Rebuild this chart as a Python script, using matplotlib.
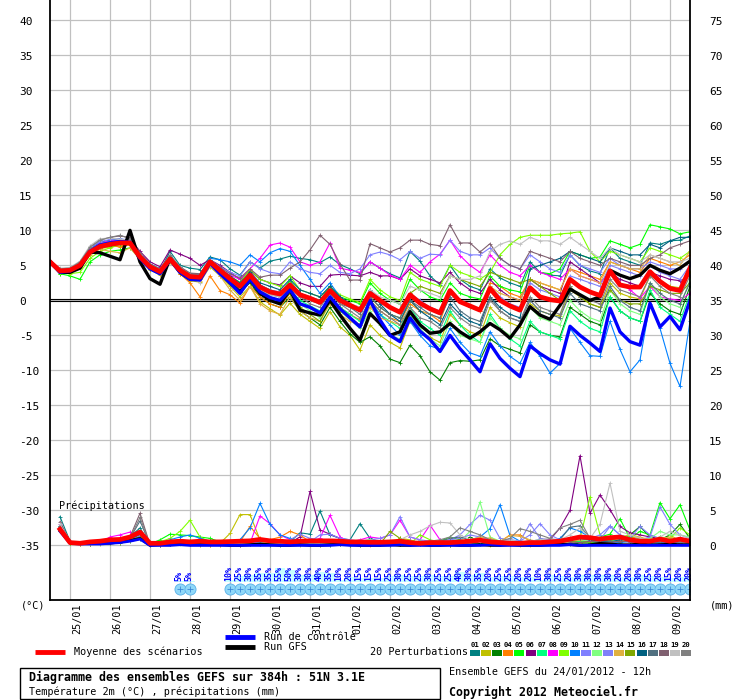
import matplotlib
matplotlib.use('Agg')
import matplotlib.pyplot as plt
from matplotlib.patches import Rectangle
from matplotlib.lines import Line2D
import matplotlib.transforms as mtrans

plt.rcParams['font.family'] = ['DejaVu Sans Mono', 'DejaVu Sans']

# ---------------- data ----------------
HOURS = [6 * k for k in range(65)]          # 24/01 12h -> +384h, every 6h
DATES = ['25/01', '26/01', '27/01', '28/01', '29/01', '30/01', '31/01', '01/02',
         '02/02', '03/02', '04/02', '05/02', '06/02', '07/02', '08/02', '09/02']
DATE_HOURS = [12 + 24 * n for n in range(16)]

MEAN_T = [5.5, 4.2, 4.3, 5.0, 6.9, 7.7, 8.0, 8.2, 8.2, 6.2, 4.8, 4.1, 5.9, 4.3, 3.4, 3.3,
          5.5, 4.3, 3.1, 2.0, 3.6, 1.9, 1.2, 0.9, 2.2, 0.8, 0.3, -0.3, 1.4, 0.0, -0.7, -1.4,
          1.0, 0.0, -1.0, -1.7, 0.8, -0.4, -1.2, -1.8, 1.4, -0.2, -0.8, -1.4, 1.7, 0.0, -0.8, -1.4,
          1.8, 0.5, 0.1, -0.1, 3.0, 1.9, 1.2, 0.7, 4.2, 2.2, 1.9, 1.9, 4.1, 2.7, 1.7, 1.4,
          4.6]
CTRL_T = [5.5, 4.0, 4.2, 5.0, 7.0, 7.9, 8.2, 8.4, 8.3, 6.0, 4.5, 3.8, 5.8, 4.0, 3.0, 2.9,
          5.3, 3.8, 2.5, 1.0, 3.0, 1.2, 0.4, 0.0, 1.5, -0.5, -1.0, -1.8, 0.5, -1.2, -2.5, -3.8,
          0.0, -2.8, -5.0, -5.9, -2.5, -4.4, -5.6, -7.3, -5.0, -6.9, -8.5, -10.2, -6.2, -8.3, -9.7, -10.9,
          -6.5, -7.6, -8.5, -9.1, -3.7, -5.0, -6.1, -7.3, -1.1, -4.5, -5.9, -6.4, -0.4, -3.8, -2.3, -4.2,
          0.0]
GFS_T = [5.6, 4.0, 4.0, 4.6, 6.9, 6.8, 6.3, 5.8, 10.0, 5.5, 3.1, 2.3, 6.0, 4.0, 3.0, 3.0,
         5.5, 4.0, 2.5, 1.2, 3.0, 1.0, 0.0, -0.5, 1.5, -1.4, -1.8, -2.1, 0.0, -2.1, -4.0, -5.7,
         -1.9, -3.3, -5.0, -4.5, -1.6, -3.5, -4.7, -4.5, -3.3, -4.5, -5.4, -4.5, -3.3, -4.2, -5.4, -3.5,
         -0.9, -2.1, -2.7, -0.7, 1.6, 0.8, 0.0, 0.5, 4.3, 3.6, 3.1, 3.6, 5.0, 4.3, 3.8, 4.6,
         5.6]

T01 = [5.6, 4.5, 4.6, 5.4, 7.4, 8.3, 8.6, 8.8, 8.4, 6.5, 5.0, 4.2, 7.0, 5.0, 4.6, 4.4,
       6.2, 5.8, 4.5, 3.6, 5.5, 4.6, 5.6, 5.9, 6.3, 6.0, 5.8, 5.4, 6.2, 5.1, 4.5, 3.8,
       5.5, 4.6, 3.8, 3.2, 7.0, 5.6, 3.5, 2.2, 5.0, 3.0, 2.0, 1.5, 4.5, 3.2, 2.5, 2.0,
       5.5, 4.0, 3.6, 3.5, 6.5, 5.0, 4.2, 3.8, 7.5, 6.0, 5.5, 5.0, 8.2, 8.0, 8.5, 8.6,
       9.2]
T02 = [5.3, 3.8, 3.9, 4.6, 6.5, 7.4, 7.6, 7.8, 7.9, 5.8, 4.4, 3.6, 5.5, 3.8, 2.8, 2.6,
       4.8, 3.5, 2.0, 0.5, 2.0, -0.2, -1.2, -2.1, -0.4, -2.0, -3.0, -4.0, -1.6, -3.8, -5.0, -7.1,
       -3.5, -5.0, -6.0, -6.8, -3.0, -4.5, -5.3, -6.0, -2.0, -3.5, -4.5, -5.0, -1.0, -2.5, -3.2, -3.8,
       -0.5, -1.5, -2.0, -2.2, 1.5, 0.5, -0.5, -1.0, 2.5, 1.0, 0.5, 0.2, 3.5, 2.8, 2.0, 1.8,
       4.0]
T03 = [5.4, 4.0, 4.1, 4.8, 6.7, 7.5, 7.8, 8.0, 8.0, 6.0, 4.5, 3.9, 5.7, 4.0, 3.1, 3.0,
       5.0, 3.8, 2.5, 1.2, 2.5, 0.5, -0.5, -1.0, 0.5, -1.5, -2.5, -3.5, -1.0, -3.0, -4.8, -6.0,
       -5.2, -6.5, -8.4, -8.9, -6.4, -7.9, -10.2, -11.4, -8.9, -8.6, -8.7, -8.5, -5.5, -6.5, -7.0, -7.5,
       -3.5, -4.5, -5.0, -5.2, -1.0, -2.0, -3.0, -3.5, 0.5, -1.5, -2.5, -3.0, 1.0, -0.5, -1.5, -2.0,
       2.0]
T04 = [5.5, 4.3, 4.4, 5.1, 6.8, 7.5, 7.9, 7.6, 8.0, 6.0, 4.6, 4.0, 5.8, 3.8, 2.5, 0.5,
       3.5, 1.4, 0.8, -0.4, 2.0, 0.5, -0.5, -1.0, 1.0, -0.5, -1.0, -1.8, 0.5, -1.0, -2.0, -2.8,
       0.0, -1.5, -2.5, -3.0, -0.5, -1.5, -2.0, -3.0, 1.0, 0.0, -1.0, -1.5, 2.5, 2.0, 1.0, 0.5,
       3.0, 2.5, 2.0, 1.5, 4.5, 4.0, 3.5, 3.0, 5.5, 5.0, 4.5, 4.0, 6.0, 5.5, 5.0, 5.5,
       6.5]
T05 = [5.5, 3.8, 3.5, 3.0, 5.5, 6.5, 7.0, 7.2, 7.5, 6.0, 4.8, 4.3, 6.2, 4.6, 3.8, 3.6,
       5.8, 4.6, 3.4, 2.4, 4.0, 2.2, 1.5, 1.0, 2.8, 1.0, 0.4, 0.0, 2.0, 0.5, 0.0, -0.5,
       2.5, 1.0, 0.0, -0.5, 3.0, 1.5, 0.5, 0.0, 2.5, 1.0, 0.5, 0.2, 3.5, 2.0, 1.5, 1.2,
       5.0, 4.0, 3.8, 4.5, 7.0, 6.5, 6.0, 6.2, 8.5, 8.0, 7.5, 8.0, 10.8, 10.5, 10.2, 9.5,
       9.8]
T06 = [5.5, 4.2, 4.4, 5.2, 7.2, 8.0, 8.3, 8.5, 8.8, 7.0, 5.5, 4.8, 7.2, 6.6, 6.0, 5.0,
       5.8, 5.0, 4.0, 3.0, 4.2, 3.0, 2.5, 2.2, 3.5, 2.5, 2.0, 2.0, 3.6, 3.7, 3.6, 3.5,
       4.0, 3.5, 3.5, 3.0, 4.5, 3.5, 3.0, 2.5, 4.0, 2.5, 1.5, 1.0, 3.0, 1.5, 0.5, 0.0,
       3.0, 2.0, 1.5, 1.0, 5.5, 4.5, 3.5, 2.5, 4.0, 3.0, 2.5, 2.0, 4.0, 3.5, 3.0, 2.8,
       3.5]
T07 = [5.4, 4.1, 4.2, 4.9, 6.8, 7.6, 7.9, 8.1, 8.1, 6.1, 4.7, 4.0, 5.8, 4.2, 3.3, 3.2,
       5.4, 4.0, 2.8, 1.5, 3.2, 1.5, 0.5, 0.0, 1.5, 0.0, -0.8, -1.5, 0.5, -1.0, -2.0, -3.0,
       0.0, -2.0, -3.0, -4.0, -1.0, -3.0, -4.0, -5.0, -1.5, -3.5, -5.0, -6.0, -2.0, -4.0, -5.5, -6.5,
       -3.0, -4.5, -5.0, -5.5, -1.5, -3.0, -4.0, -4.5, 0.5, -1.5, -2.5, -3.0, 1.5, -1.0, -2.0, -3.0,
       1.0]
T08 = [5.6, 4.3, 4.4, 5.2, 7.2, 8.2, 8.5, 8.6, 8.4, 6.4, 5.0, 4.2, 6.0, 4.4, 3.6, 3.5,
       5.6, 4.5, 3.6, 3.0, 4.5, 6.0, 7.9, 8.2, 7.6, 5.5, 5.0, 5.5, 8.2, 4.6, 4.3, 4.0,
       5.5, 4.6, 3.6, 3.0, 5.0, 4.0, 5.5, 6.6, 8.6, 6.4, 5.0, 4.0, 6.5, 5.0, 4.0, 3.5,
       5.0, 4.0, 3.5, 3.0, 4.5, 3.5, 3.0, 2.5, 4.0, 2.5, 1.5, 0.3, 2.0, 0.5, 0.2, 0.0,
       1.0]
T09 = [5.5, 4.0, 3.8, 4.0, 6.0, 7.0, 7.5, 8.0, 8.0, 6.4, 5.0, 4.5, 6.0, 4.6, 3.8, 3.6,
       5.6, 4.4, 3.4, 2.6, 4.4, 3.0, 2.5, 2.0, 3.5, 1.5, 1.0, 0.5, 2.0, 0.8, 0.2, -0.3,
       3.0, 1.5, 0.5, 0.0, 4.0, 3.0, 2.5, 2.0, 5.0, 4.0, 3.5, 3.0, 4.0, 6.5, 8.0, 9.0,
       9.3, 9.3, 9.3, 9.5, 9.6, 9.8, 7.0, 5.5, 7.0, 6.5, 6.0, 5.5, 7.5, 7.0, 6.5, 6.0,
       7.0]
T10 = [5.6, 4.4, 4.5, 5.3, 7.3, 8.1, 8.4, 8.5, 8.5, 6.6, 5.2, 4.5, 6.3, 4.7, 3.8, 3.7,
       6.0, 5.8, 5.5, 5.0, 6.5, 5.5, 6.8, 7.4, 7.0, 5.0, 3.0, 1.0, 2.5, 0.5, -0.5, -1.5,
       0.0, -2.0, -3.5, -5.0, -3.0, -5.0, -6.5, -7.0, -4.0, -6.0, -7.5, -8.0, -4.5, -6.5, -8.0, -9.0,
       -6.0, -8.0, -10.4, -9.0, -4.0, -6.0, -7.9, -8.0, -3.0, -7.0, -10.2, -8.5, -0.5, -4.0, -9.0, -12.3,
       -3.0]
T11 = [5.6, 4.4, 4.5, 5.2, 7.5, 8.4, 8.7, 8.8, 8.6, 6.5, 5.0, 4.3, 6.1, 4.5, 3.6, 3.5,
       5.8, 4.8, 4.0, 3.5, 5.5, 4.5, 4.0, 3.8, 5.5, 4.5, 4.0, 3.8, 5.0, 4.0, 3.8, 4.5,
       6.5, 6.9, 6.5, 5.8, 7.0, 6.0, 6.6, 6.5, 8.6, 7.0, 6.5, 6.5, 7.5, 6.0, 5.0, 4.5,
       6.5, 5.5, 4.5, 4.0, 6.5, 5.0, 4.5, 4.0, 6.0, 5.0, 4.5, 4.5, 5.5, 5.0, 4.5, 4.5,
       5.5]
T12 = [5.5, 4.3, 4.4, 5.1, 7.0, 7.8, 8.1, 8.3, 8.3, 6.3, 4.9, 4.2, 6.0, 4.4, 3.5, 3.4,
       5.6, 4.2, 3.0, 1.8, 3.5, 1.5, 0.5, 0.0, 1.5, -0.5, -1.5, -2.5, 0.0, -1.5, -2.8, -4.0,
       -1.5, -3.5, -5.0, -5.5, -2.0, -4.0, -5.5, -6.5, -3.0, -5.0, -5.5, -6.0, -2.5, -4.0, -5.0, -5.5,
       -1.0, -2.5, -3.0, -3.5, 0.0, -1.5, -2.5, -3.0, 1.5, -0.5, -1.5, -2.0, 2.5, 0.5, -0.5, -1.0,
       3.0]
T13 = [5.5, 4.2, 4.3, 5.0, 6.9, 7.7, 8.0, 8.2, 8.2, 6.2, 4.8, 4.1, 5.9, 4.3, 3.4, 3.3,
       5.5, 4.3, 3.2, 2.2, 3.8, 2.2, 1.5, 1.2, 2.5, 1.0, 0.5, 0.0, 1.5, 0.2, -0.5, -1.0,
       1.5, 0.0, -1.0, -1.5, 1.0, 0.0, -1.0, -1.5, 1.5, 0.0, -1.0, -1.5, 2.0, 0.5, -0.5, -1.0,
       2.5, 1.5, 1.0, 0.5, 3.5, 3.0, 2.5, 2.0, 5.0, 4.5, 4.0, 3.5, 5.0, 4.0, 3.5, 3.0,
       5.0]
T14 = [5.4, 4.0, 4.1, 4.8, 6.6, 7.3, 7.0, 6.8, 7.5, 5.8, 4.5, 3.8, 5.6, 4.0, 3.0, 2.8,
       5.0, 3.5, 1.5, 0.0, 2.0, -0.5, -1.5, -2.0, 0.5, -1.5, -2.5, -3.0, -0.5, -2.0, -3.0, -3.5,
       -1.0, -2.5, -3.0, -3.5, 0.0, -1.5, -2.0, -2.5, 1.0, 0.0, -1.0, -1.5, 2.0, 1.0, 0.5, 0.0,
       3.0, 2.5, 2.0, 1.5, 4.5, 3.5, 3.0, 2.5, 5.5, 5.0, 4.5, 4.5, 6.5, 6.0, 5.5, 5.0,
       7.0]
T15 = [5.5, 4.2, 4.3, 5.0, 6.9, 7.6, 7.9, 8.0, 8.0, 6.1, 4.7, 4.0, 5.8, 4.2, 3.2, 3.1,
       5.2, 4.0, 2.6, 1.2, 3.0, 1.0, 0.0, -0.5, 1.0, -1.0, -2.0, -3.0, 0.0, -1.5, -2.5, -3.5,
       0.5, -1.0, -2.0, -2.5, 1.0, 2.0, 1.5, 1.0, 3.5, 3.0, 2.5, 2.0, 4.0, 3.5, 3.0, 2.5,
       3.0, 2.0, 1.0, 0.0, 2.0, 0.5, -0.5, -1.0, 1.5, 0.0, -0.5, -0.5, 2.0, 1.5, 1.0, 1.0,
       2.5]
T16 = [5.6, 4.4, 4.4, 5.1, 7.1, 7.9, 8.2, 8.3, 8.3, 6.4, 5.0, 4.3, 6.2, 4.6, 3.6, 3.5,
       5.8, 4.5, 3.5, 2.5, 4.0, 2.5, 2.0, 1.5, 3.0, 1.5, 1.0, 0.5, 2.0, 0.5, -0.5, -1.5,
       1.5, -0.5, -2.0, -3.0, 0.0, -1.5, -2.5, -3.5, -0.5, -2.0, -3.0, -3.5, 0.5, -1.0, -2.0, -2.5,
       4.5, 5.0, 5.5, 6.0, 7.0, 6.5, 6.0, 5.5, 7.5, 7.0, 6.5, 6.5, 8.0, 7.5, 8.5, 9.0,
       9.0]
T17 = [5.5, 4.2, 4.3, 5.0, 6.9, 7.7, 8.0, 8.2, 8.2, 6.2, 4.8, 4.1, 5.9, 4.3, 3.4, 3.3,
       5.5, 4.3, 3.1, 2.0, 3.6, 1.5, 0.8, 0.5, 1.8, 0.5, 0.0, -0.5, 1.0, -0.5, -1.0, -2.0,
       0.5, -1.0, -2.0, -2.5, 0.0, -1.0, -2.0, -2.5, 0.5, -1.5, -2.5, -3.0, 0.5, -1.5, -2.5, -3.0,
       0.0, -1.5, -2.0, -2.5, 1.0, -0.5, -1.0, -1.5, 2.0, 0.0, -1.0, -1.5, 2.5, 1.0, 0.0, -0.5,
       2.5]
T18 = [5.6, 4.5, 4.6, 5.4, 7.6, 8.6, 9.0, 9.2, 9.0, 6.8, 5.2, 4.5, 6.5, 4.8, 3.9, 3.8,
       5.8, 4.7, 3.8, 3.2, 4.5, 3.3, 3.6, 3.6, 4.6, 5.5, 7.2, 9.3, 8.0, 5.2, 2.9, 2.9,
       8.1, 7.5, 6.9, 7.5, 8.6, 8.6, 8.0, 7.8, 10.8, 8.2, 8.2, 6.9, 8.1, 6.0, 5.0, 4.5,
       7.0, 6.5, 6.0, 5.5, 7.0, 6.0, 5.5, 5.0, 6.0, 5.5, 5.0, 5.0, 6.0, 6.5, 7.5, 8.0,
       8.5]
T19 = [5.6, 4.6, 4.7, 5.6, 7.8, 8.8, 8.9, 8.7, 8.6, 6.5, 5.0, 4.4, 6.3, 4.6, 3.7, 2.5,
       5.0, 3.8, 2.8, 1.8, 3.4, 1.5, 0.8, 0.5, 2.0, 0.5, 0.0, -0.5, 1.5, 0.0, -0.5, -1.0,
       1.5, 0.5, 0.0, -0.5, 2.0, 1.5, 1.0, 0.5, 3.5, 3.0, 3.0, 3.5, 7.0, 8.0, 8.5, 8.0,
       9.0, 8.5, 8.5, 8.0, 9.0, 8.0, 7.0, 6.0, 7.5, 6.5, 6.0, 5.5, 6.5, 6.0, 5.5, 5.5,
       6.0]
T20 = [5.6, 4.5, 4.6, 5.5, 7.6, 8.6, 9.0, 9.3, 8.8, 6.6, 5.1, 4.4, 6.4, 4.7, 3.7, 3.6,
       5.8, 4.5, 3.3, 2.3, 3.8, 2.0, 1.5, 1.0, 2.5, 0.5, -0.5, -1.0, 1.0, -0.5, -1.5, -2.5,
       0.0, -1.5, -2.5, -3.5, -1.0, -2.5, -3.0, -4.0, -1.0, -2.5, -3.5, -4.0, 0.0, -1.5, -2.5, -3.0,
       0.5, -1.0, -1.5, -2.0, 2.0, 0.5, 0.0, -0.5, 3.0, 1.5, 1.0, 0.5, 3.5, 2.0, 1.0, 0.5,
       3.5]

# precipitation (mm per 6h), steps k = 1..64
MEAN_P = [2.3, 0.4, 0.3, 0.5, 0.6, 0.8, 0.85, 1.2, 1.9, 0.3, 0.3, 0.5, 0.6, 0.5, 0.6, 0.5,
          0.5, 0.55, 0.6, 0.65, 0.85, 0.65, 0.6, 0.5, 0.6, 0.65, 0.65, 0.65, 0.6, 0.5, 0.5, 0.45,
          0.45, 0.5, 0.6, 0.4, 0.3, 0.4, 0.4, 0.4, 0.5, 0.6, 0.75, 0.5, 0.4, 0.3, 0.3, 0.4,
          0.4, 0.5, 0.6, 0.9, 1.2, 1.1, 0.9, 1.1, 1.2, 0.8, 0.6, 0.6, 0.9, 0.6, 0.9, 0.6]
CTRL_P = [2.0, 0.3, 0.2, 0.2, 0.2, 0.3, 0.4, 0.6, 0.9, 0.0, 0.0, 0.0, 0.1, 0.0, 0.0, 0.0,
          0.0, 0.0, 0.0, 0.0, 0.0, 0.0, 0.0, 0.0, 0.0, 0.0, 0.0, 0.0, 0.1, 0.0, 0.0, 0.0,
          0.0, 0.0, 0.1, 0.0, 0.0, 0.0, 0.0, 0.0, 0.0, 0.0, 0.0, 0.1, 0.0, 0.0, 0.0, 0.0,
          0.0, 0.0, 0.0, 0.1, 0.0, 0.0, 0.0, 0.0, 0.0, 0.0, 0.0, 0.0, 0.0, 0.0, 0.0, 0.0]
GFS_P = [2.2, 0.4, 0.3, 0.3, 0.3, 0.3, 0.5, 0.7, 1.0, 0.0, 0.1, 0.1, 0.2, 0.1, 0.1, 0.1,
         0.1, 0.0, 0.0, 0.1, 0.2, 0.1, 0.0, 0.0, 0.1, 0.0, 0.0, 0.1, 0.2, 0.1, 0.0, 0.0,
         0.0, 0.1, 0.0, 0.0, 0.1, 0.0, 0.0, 0.1, 0.0, 0.0, 0.1, 0.0, 0.0, 0.1, 0.0, 0.0,
         0.0, 0.1, 0.2, 0.1, 0.0, 0.1, 0.3, 0.2, 0.1, 0.1, 0.2, 0.1, 0.1, 0.2, 0.1, 0.1]

P01 = [4.1, 0.6, 0.3, 0.2, 0.3, 0.5, 0.8, 1.2, 2.5, 0.1, 0.1, 0.2, 0.3, 0.5, 0.4, 0.3,
       0.3, 0.2, 0.1, 0.3, 0.5, 0.3, 0.4, 0.5, 1.8, 1.6, 4.9, 1.5, 1.0, 0.8, 3.1, 1.0,
       0.5, 0.4, 0.3, 0.6, 0.4, 0.3, 0.5, 0.7, 0.6, 0.4, 0.3, 0.3, 0.4, 0.5, 0.3, 0.2,
       0.3, 0.4, 0.5, 0.6, 0.8, 0.6, 0.5, 0.7, 0.5, 0.6, 0.8, 0.5, 0.6, 0.5, 0.7, 0.5]
P02 = [2.8, 0.5, 0.3, 0.3, 0.2, 0.3, 0.5, 0.7, 1.0, 0.0, 0.1, 0.2, 0.4, 0.2, 0.1, 0.1,
       0.3, 1.7, 4.4, 4.4, 0.8, 0.4, 0.3, 0.2, 0.1, 0.1, 0.2, 0.3, 0.2, 0.1, 0.1, 0.2,
       0.3, 0.2, 1.0, 0.8, 0.3, 0.2, 0.2, 0.1, 0.2, 0.3, 0.2, 0.1, 0.2, 0.2, 0.1, 0.1,
       0.2, 0.3, 0.5, 0.4, 0.6, 0.5, 0.4, 0.5, 0.6, 0.7, 0.8, 0.5, 0.4, 1.5, 0.6, 0.4]
P03 = [2.6, 0.4, 0.2, 0.2, 0.3, 0.3, 0.4, 0.6, 0.9, 0.0, 0.1, 0.3, 0.8, 0.6, 0.5, 0.4,
       0.3, 0.2, 0.2, 0.3, 0.2, 0.1, 0.1, 0.2, 0.3, 0.2, 0.1, 0.1, 0.2, 0.1, 0.1, 0.2,
       0.2, 0.1, 0.2, 0.4, 0.6, 0.3, 0.2, 0.1, 0.2, 1.2, 0.5, 0.3, 0.2, 0.2, 0.3, 0.2,
       0.3, 0.4, 0.3, 0.2, 0.3, 0.4, 0.3, 0.5, 0.8, 1.5, 2.7, 1.2, 0.8, 1.5, 3.0, 1.0]
P04 = [2.2, 0.5, 0.2, 0.2, 0.3, 0.4, 0.5, 0.8, 1.3, 0.0, 0.1, 0.2, 0.3, 0.2, 0.2, 0.1,
       0.1, 0.1, 0.5, 2.7, 1.0, 0.8, 1.2, 2.0, 1.5, 0.5, 0.3, 0.2, 0.3, 0.4, 0.2, 0.1,
       0.2, 0.3, 0.5, 0.6, 0.4, 0.3, 0.3, 0.5, 0.6, 0.5, 0.4, 0.3, 0.5, 1.5, 1.5, 0.6,
       0.4, 0.3, 0.5, 0.6, 0.9, 1.0, 0.8, 0.7, 0.6, 1.2, 1.0, 0.8, 0.6, 0.5, 0.4, 0.3]
P05 = [2.0, 0.4, 0.3, 0.3, 0.3, 0.4, 0.5, 0.8, 1.2, 0.2, 0.8, 1.6, 1.5, 1.4, 1.2, 1.0,
       0.5, 0.3, 0.2, 0.2, 0.3, 0.5, 0.4, 0.3, 0.2, 0.3, 0.2, 0.2, 0.6, 0.4, 0.3, 0.2,
       0.3, 0.4, 0.3, 0.5, 0.2, 0.3, 0.6, 1.2, 0.8, 0.4, 0.3, 0.5, 0.4, 0.3, 0.2, 0.3,
       0.4, 0.5, 0.8, 0.6, 0.5, 0.4, 1.2, 1.6, 3.8, 1.0, 2.0, 1.5, 6.1, 3.8, 5.8, 2.2]
P06 = [2.4, 0.5, 0.3, 0.3, 0.4, 0.5, 0.6, 0.9, 1.4, 0.1, 0.1, 0.2, 0.3, 0.2, 0.2, 0.2,
       0.2, 0.2, 0.1, 0.2, 0.3, 0.2, 0.3, 0.4, 1.2, 7.7, 2.2, 1.6, 1.0, 0.6, 0.4, 0.2,
       0.2, 0.3, 0.2, 0.3, 0.2, 0.2, 0.3, 0.2, 0.2, 0.3, 0.4, 0.3, 0.2, 0.3, 0.4, 0.5,
       0.6, 0.8, 2.5, 5.0, 12.8, 4.6, 7.2, 5.1, 2.7, 1.8, 1.5, 1.2, 1.0, 0.8, 0.6, 0.5]
P07 = [2.3, 0.4, 0.3, 0.3, 0.3, 0.4, 0.6, 0.9, 1.5, 0.1, 0.1, 0.3, 0.3, 0.2, 0.2, 0.2,
       0.2, 0.2, 0.3, 0.2, 0.3, 0.2, 0.3, 0.2, 0.3, 0.2, 0.3, 0.2, 0.2, 0.3, 0.2, 0.3,
       0.3, 0.2, 0.3, 0.2, 0.3, 0.4, 0.3, 0.5, 0.4, 0.3, 0.2, 0.3, 0.2, 0.2, 0.3, 0.4,
       0.5, 0.4, 0.6, 0.8, 0.5, 0.4, 0.6, 0.8, 0.6, 0.5, 1.0, 0.8, 1.2, 0.6, 0.8, 0.5]
P08 = [3.0, 0.5, 0.3, 0.3, 0.4, 1.2, 1.5, 1.9, 1.5, 0.1, 0.1, 0.2, 0.3, 0.2, 0.3, 0.2,
       0.2, 0.3, 0.2, 0.3, 4.2, 3.1, 1.5, 0.8, 0.5, 0.5, 1.0, 4.3, 1.2, 0.5, 0.8, 1.2,
       1.0, 1.5, 3.6, 1.2, 0.8, 2.9, 0.8, 0.5, 0.6, 0.4, 0.3, 0.3, 0.5, 0.4, 0.3, 0.5,
       0.6, 0.5, 0.4, 0.6, 0.8, 0.6, 0.5, 0.4, 0.6, 0.5, 0.4, 0.6, 0.5, 0.4, 0.5, 0.4]
P09 = [2.0, 0.4, 0.3, 0.3, 0.3, 0.4, 0.5, 0.7, 1.0, 0.1, 0.5, 1.0, 2.0, 3.6, 1.2, 0.5,
       0.3, 0.2, 0.2, 0.3, 0.2, 0.3, 0.5, 0.4, 0.3, 0.2, 0.3, 0.2, 0.3, 0.2, 0.3, 0.4,
       0.3, 0.2, 0.3, 0.2, 1.5, 0.8, 0.5, 0.4, 0.3, 0.5, 0.4, 0.3, 0.2, 0.3, 0.2, 0.3,
       0.4, 0.5, 0.6, 0.8, 1.0, 6.9, 1.5, 1.0, 1.2, 1.5, 1.0, 0.8, 1.2, 1.0, 2.5, 1.5]
P10 = [2.7, 0.6, 0.3, 0.3, 0.3, 0.4, 0.5, 0.8, 1.3, 0.1, 0.3, 0.8, 1.2, 1.5, 1.0, 0.6,
       0.5, 0.4, 0.8, 2.5, 6.0, 3.0, 1.5, 1.0, 0.6, 0.4, 0.3, 0.2, 0.3, 0.5, 0.3, 0.2,
       0.3, 0.2, 0.3, 0.2, 0.3, 0.4, 0.3, 0.5, 0.6, 0.8, 1.2, 2.4, 5.8, 1.4, 0.6, 0.5,
       0.5, 0.6, 1.0, 2.5, 2.0, 1.2, 0.8, 0.5, 0.4, 0.6, 0.5, 0.4, 0.3, 0.5, 0.4, 0.3]
P11 = [2.5, 0.5, 0.3, 0.3, 0.3, 0.4, 0.5, 0.8, 1.2, 0.1, 0.1, 0.2, 0.3, 0.2, 0.2, 0.3,
       0.2, 0.2, 0.3, 0.2, 0.3, 0.4, 0.5, 0.3, 0.2, 0.5, 1.5, 1.6, 1.0, 0.8, 0.6, 0.8,
       1.0, 1.5, 4.1, 1.2, 0.8, 0.6, 0.5, 0.8, 1.5, 3.0, 4.3, 3.6, 1.0, 0.8, 0.6, 1.5,
       3.1, 1.5, 0.8, 0.6, 0.8, 1.0, 1.5, 2.8, 1.5, 1.0, 0.8, 1.2, 5.5, 3.0, 1.5, 1.0]
P12 = [2.4, 0.5, 0.3, 0.3, 0.3, 0.4, 0.5, 0.8, 1.1, 0.1, 0.2, 0.3, 0.2, 0.2, 0.3, 0.2,
       0.2, 0.3, 0.2, 0.3, 0.4, 0.3, 0.2, 0.3, 0.2, 0.3, 0.2, 0.3, 0.2, 0.4, 0.6, 0.8,
       0.5, 0.4, 0.3, 0.5, 0.6, 0.4, 0.3, 0.5, 0.6, 2.0, 6.2, 1.2, 0.6, 0.4, 0.3, 0.3,
       0.4, 0.5, 0.4, 0.6, 0.8, 0.6, 0.5, 0.7, 0.6, 0.8, 0.6, 1.0, 2.0, 1.5, 1.5, 1.2]
P13 = [2.6, 0.5, 0.3, 0.3, 0.3, 0.4, 0.6, 0.9, 1.4, 0.1, 0.1, 0.2, 0.3, 0.2, 0.2, 0.2,
       0.2, 0.2, 0.3, 0.3, 0.5, 0.6, 0.4, 0.8, 1.6, 1.0, 0.8, 0.5, 0.4, 0.5, 0.6, 0.5,
       0.4, 0.5, 0.6, 0.5, 0.4, 0.6, 0.5, 0.8, 1.0, 1.5, 1.2, 0.8, 0.6, 0.8, 0.6, 3.1,
       1.0, 0.8, 0.6, 0.8, 1.0, 1.2, 0.8, 2.7, 1.5, 1.0, 2.7, 1.5, 1.0, 0.8, 0.6, 0.5]
P14 = [2.2, 0.4, 0.2, 0.3, 0.3, 0.4, 0.5, 0.7, 1.1, 0.0, 0.1, 0.2, 0.3, 0.2, 0.1, 0.1,
       0.1, 0.2, 0.1, 0.2, 0.3, 0.4, 0.3, 0.2, 0.3, 0.2, 0.1, 0.2, 0.3, 0.4, 0.3, 0.2,
       0.3, 0.2, 0.3, 0.4, 0.3, 0.2, 0.3, 0.4, 0.5, 0.8, 1.2, 1.0, 0.6, 1.4, 1.3, 0.8,
       0.5, 0.6, 0.4, 0.5, 0.8, 1.2, 1.0, 0.8, 1.0, 1.5, 1.2, 0.8, 1.0, 1.2, 0.8, 0.6]
P15 = [2.3, 0.4, 0.3, 0.3, 0.3, 0.4, 0.5, 0.8, 1.2, 0.1, 0.1, 0.2, 0.3, 0.2, 0.2, 0.2,
       0.2, 0.3, 0.2, 0.3, 0.2, 0.3, 0.2, 0.3, 0.2, 0.3, 0.2, 0.3, 0.2, 0.3, 0.2, 0.3,
       0.2, 2.0, 1.0, 0.5, 0.3, 0.2, 0.3, 0.2, 0.3, 0.4, 0.3, 0.2, 0.3, 0.2, 0.3, 0.2,
       0.3, 0.4, 0.5, 0.6, 0.4, 0.5, 0.6, 0.8, 1.0, 0.8, 0.6, 0.5, 0.6, 0.8, 0.6, 0.5]
P16 = [2.5, 0.5, 0.3, 0.3, 0.3, 0.4, 0.6, 0.9, 1.6, 0.1, 0.1, 0.2, 0.3, 0.2, 0.2, 0.2,
       0.2, 0.3, 0.2, 0.3, 0.2, 0.3, 0.2, 0.3, 0.2, 0.3, 0.3, 0.4, 0.2, 0.3, 0.2, 0.3,
       0.4, 0.3, 0.2, 0.3, 0.4, 0.3, 0.4, 0.5, 0.4, 0.3, 0.4, 0.5, 0.6, 0.4, 0.5, 0.6,
       0.8, 0.6, 0.5, 0.8, 1.0, 0.8, 0.6, 0.5, 0.8, 1.0, 0.6, 0.5, 0.8, 0.6, 0.5, 0.4]
P17 = [2.8, 0.6, 0.3, 0.3, 0.3, 0.4, 0.6, 1.0, 3.5, 0.1, 0.1, 0.2, 0.3, 0.2, 0.2, 0.2,
       0.2, 0.3, 0.2, 0.3, 0.2, 0.3, 0.2, 0.3, 0.2, 0.3, 0.2, 0.3, 0.2, 0.3, 0.2, 0.3,
       0.3, 0.4, 0.3, 0.2, 0.3, 0.4, 0.6, 1.0, 1.2, 0.8, 0.5, 0.4, 0.3, 0.4, 0.5, 0.6,
       0.5, 0.6, 0.8, 2.6, 2.8, 1.0, 0.8, 0.6, 0.5, 0.8, 0.6, 0.5, 0.4, 0.6, 0.5, 0.4]
P18 = [3.4, 0.6, 0.3, 0.3, 0.4, 0.5, 0.7, 1.2, 4.6, 0.1, 0.1, 0.2, 0.3, 0.2, 0.2, 0.2,
       0.2, 0.2, 0.3, 0.2, 0.3, 0.2, 0.3, 0.2, 0.3, 0.2, 0.3, 0.2, 0.3, 0.2, 0.3, 0.2,
       0.3, 0.2, 0.3, 0.4, 0.3, 0.2, 0.3, 0.4, 0.3, 0.4, 0.5, 0.4, 0.3, 0.4, 0.3, 0.4,
       0.5, 0.4, 0.6, 0.5, 0.4, 0.6, 0.5, 0.4, 0.6, 0.5, 0.4, 0.5, 0.6, 0.5, 0.4, 0.5]
P19 = [3.0, 0.6, 0.3, 0.3, 0.3, 0.4, 0.6, 1.0, 2.0, 0.1, 0.1, 0.2, 0.3, 0.2, 0.2, 0.2,
       0.2, 0.3, 0.2, 0.3, 0.2, 0.3, 0.2, 0.3, 0.2, 0.3, 0.2, 0.3, 0.2, 0.3, 0.2, 0.3,
       0.3, 0.4, 0.8, 1.5, 2.0, 2.8, 3.3, 3.2, 1.5, 0.8, 0.5, 0.4, 0.6, 0.8, 0.5, 0.6,
       0.8, 1.0, 0.8, 1.5, 2.5, 1.0, 3.0, 8.9, 2.0, 1.5, 1.0, 0.8, 1.2, 2.0, 1.5, 1.0]
P20 = [2.6, 0.5, 0.3, 0.3, 0.3, 0.4, 0.6, 1.0, 4.0, 0.1, 0.1, 0.2, 0.3, 0.2, 0.2, 0.2,
       0.2, 0.3, 0.2, 0.3, 0.2, 0.3, 0.2, 0.3, 0.2, 0.3, 0.2, 0.3, 0.2, 0.3, 0.2, 0.3,
       0.3, 0.2, 0.3, 0.4, 0.5, 0.6, 0.8, 1.2, 2.5, 2.0, 1.5, 0.8, 0.6, 1.0, 2.4, 2.0,
       1.5, 1.0, 2.5, 3.0, 3.6, 1.0, 0.8, 1.2, 1.0, 0.8, 0.6, 0.5, 0.8, 0.6, 0.5, 0.4]

# snow probability labels (step index k -> %)
SNOW_STEPS = [13, 14] + list(range(18, 65))
SNOW_PCT = [5, 5,
            10, 25, 30, 35, 35, 55, 50, 30, 30, 40, 35, 10, 20, 15, 15, 15, 25, 30, 25, 25,
            30, 25, 25, 40, 30, 35, 20, 25, 25, 20, 20, 10, 30, 25, 20, 30, 30, 30, 30, 20,
            20, 30, 25, 20, 15, 20, 20]

MEMBERS_T = [T01, T02, T03, T04, T05, T06, T07, T08, T09, T10,
             T11, T12, T13, T14, T15, T16, T17, T18, T19, T20]
MEMBERS_P = [P01, P02, P03, P04, P05, P06, P07, P08, P09, P10,
             P11, P12, P13, P14, P15, P16, P17, P18, P19, P20]
COLORS = ['#008080', '#c0c000', '#008000', '#ff8000', '#00ff00', '#800080', '#00ff80',
          '#ff00ff', '#80ff00', '#0080ff', '#8080ff', '#80ff80', '#8080f8', '#e0b040',
          '#80a800', '#006080', '#507080', '#806070', '#c0c0c0', '#808080']
P_BASE = -35.0   # 0 mm sits on the -35 degC line

# ---------------- figure ----------------
W, H = 740, 700
fig = plt.figure(figsize=(W / 100, H / 100), dpi=100)
fig.patch.set_facecolor('white')
ax = fig.add_axes([50 / W, 100 / H, 640 / W, 600 / H])
ax.set_xlim(0, 384)
ax.set_ylim(-42.8, 42.9)
ax.set_xticks([])
ax.set_yticks([])
ax.spines['top'].set_visible(False)
for s in ('left', 'right', 'bottom'):
    ax.spines[s].set_linewidth(1.3)
    ax.spines[s].set_color('black')
    ax.spines[s].set_zorder(10)

for v in range(-35, 45, 5):
    ax.axhline(v, color='#c0c0c0', lw=0.9, zorder=1)
for h in DATE_HOURS:
    ax.axvline(h, color='#c0c0c0', lw=0.9, zorder=1)
ax.axhline(0.15, color='black', lw=0.8, zorder=2)
ax.axhline(-0.15, color='black', lw=0.8, zorder=2)

ylab = mtrans.blended_transform_factory(ax.transAxes, ax.transData)
xlab = mtrans.blended_transform_factory(ax.transData, ax.transAxes)
for v in range(-35, 45, 5):
    ax.text(-31 / 640, v - 0.3, str(v), transform=ylab, ha='left', va='center',
            fontsize=8, clip_on=False)
    ax.text(659 / 640, v - 0.3, str(v + 35), transform=ylab, ha='left', va='center',
            fontsize=8, clip_on=False)
for h, d in zip(DATE_HOURS, DATES):
    ax.text(h + 4.2, -0.005, d, transform=xlab, rotation=90, ha='center', va='top',
            fontsize=7.3, clip_on=False)

# temperature
mk = dict(marker='+', ms=3, mew=0.6)
for vals, c in zip(MEMBERS_T, COLORS):
    ax.plot(HOURS, vals, color=c, lw=0.8, zorder=3, **mk)
ax.plot(HOURS, GFS_T, color='black', lw=2.4, zorder=4)
ax.plot(HOURS, CTRL_T, color='#0000ff', lw=2.4, zorder=5)
ax.plot(HOURS, MEAN_T, color='#ff0000', lw=3.4, zorder=6)

# precipitation
PH = HOURS[1:]
for vals, c in zip(MEMBERS_P, COLORS):
    ax.plot(PH, [P_BASE + p for p in vals], color=c, lw=0.8, zorder=3, **mk)
ax.plot(PH, [P_BASE + p for p in GFS_P], color='black', lw=2.0, zorder=4)
ax.plot(PH, [P_BASE + p for p in CTRL_P], color='#0000ff', lw=2.0, zorder=5)
ax.plot(PH, [P_BASE + p for p in MEAN_P], color='#ff0000', lw=3.4, zorder=6)

# snow probability strip
SH = [HOURS[k] for k in SNOW_STEPS]
ax.bar(SH, [p * 0.036 for p in SNOW_PCT], bottom=-40.25, width=6, color='#c8ffff',
       edgecolor='none', zorder=2)
ax.scatter(SH, [-41.2] * len(SH), s=64, marker='o', facecolor='#90d8f8',
           edgecolor='#58b0e8', linewidth=0.6, zorder=7)
ax.scatter(SH, [-41.2] * len(SH), s=18, marker='+', color='#3a88d8', linewidth=0.6, zorder=8)
for h, p in zip(SH, SNOW_PCT):
    ax.text(h - 0.8, -40.15, f'{p}%', rotation=90, ha='center', va='bottom', fontsize=6,
            color='#0000ff', fontweight='bold', zorder=9)

ax.text(9.3 / 640 * 384, -29.3, 'Précipitations', fontsize=7.3, ha='left', va='center', zorder=9)


def ftxt(x, y, s, **kw):
    fig.text(x / W, 1 - y / H, s, **kw)


def fline(x0, x1, y, **kw):
    fig.add_artist(Line2D([x0 / W, x1 / W], [1 - y / H, 1 - y / H],
                          transform=fig.transFigure, **kw))


ftxt(21, 606, '(°C)', fontsize=7.3, va='center', ha='left')
ftxt(710, 606, '(mm)', fontsize=7.3, va='center', ha='left')

fline(35, 65, 652, color='#ff0000', lw=3.5, solid_capstyle='butt')
ftxt(74, 652, 'Moyenne des scénarios', fontsize=7.3, va='center', ha='left')
fline(225, 255, 637, color='#0000ff', lw=3.5, solid_capstyle='butt')
ftxt(264, 637, 'Run de contrôle', fontsize=7.3, va='center', ha='left')
fline(225, 255, 647, color='black', lw=3.5, solid_capstyle='butt')
ftxt(264, 647, 'Run GFS', fontsize=7.3, va='center', ha='left')

ftxt(370, 652, '20 Perturbations', fontsize=7.3, va='center', ha='left')
for i, c in enumerate(COLORS):
    x0 = 470 + 11.1 * i
    fig.add_artist(Rectangle((x0 / W, 1 - 656 / H), 10 / W, 6 / H,
                             transform=fig.transFigure, facecolor=c, edgecolor='none'))
    ftxt(x0 + 5, 645, f'{i + 1:02d}', fontsize=5.2, fontweight='bold', ha='center',
         va='center')

fig.add_artist(Rectangle((20 / W, 1 - 699 / H), 420 / W, 31 / H, transform=fig.transFigure,
                         fill=False, edgecolor='black', lw=1.0))
ftxt(29, 677, 'Diagramme des ensembles GEFS sur 384h : 51N 3.1E', fontsize=8.4,
     fontweight='bold', va='center', ha='left')
ftxt(29, 692, 'Température 2m (°C) , précipitations (mm)', fontsize=7.3,
     va='center', ha='left')
ftxt(449, 672, 'Ensemble GEFS du 24/01/2012 - 12h', fontsize=7.3, va='center', ha='left')
ftxt(449, 692, 'Copyright 2012 Meteociel.fr', fontsize=8.4, fontweight='bold',
     va='center', ha='left')

fig.savefig('out.png', dpi=100)
